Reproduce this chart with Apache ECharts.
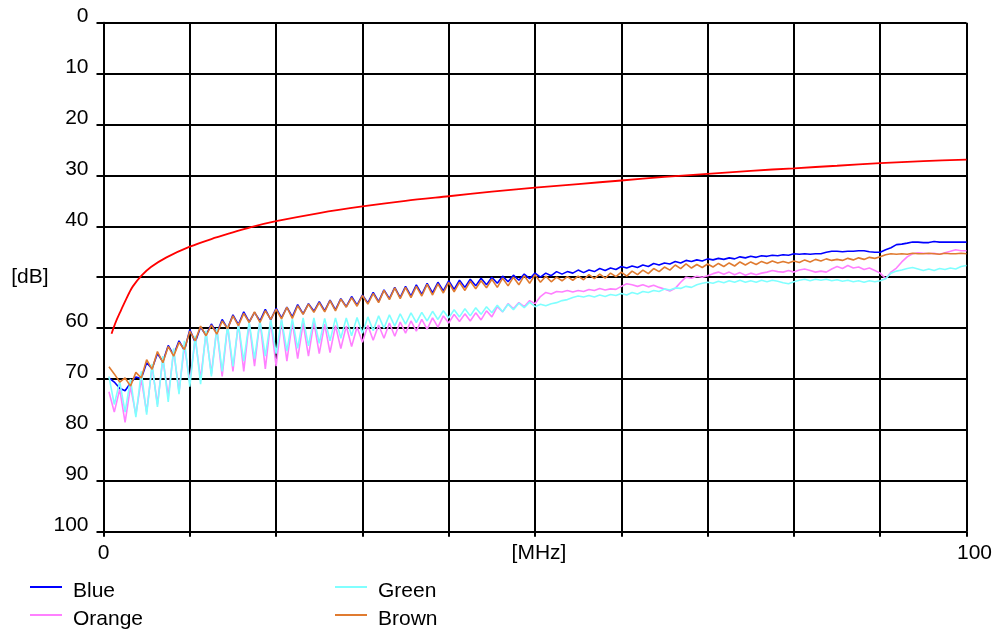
<!DOCTYPE html>
<html>
<head>
<meta charset="utf-8">
<script src="https://cdn.jsdelivr.net/npm/echarts@6/dist/echarts.min.js"></script>
<style>
  html, body { margin: 0; padding: 0; background: #fff; }
  #chart { width: 998px; height: 637px; }
</style>
</head>
<body>
<div id="chart"></div>
<script>
// Sweep frequencies (MHz) shared by the four pair traces
const freqMHz = [
  0.63,1.25,1.88,2.5,3.13,3.75,4.38,5,
  5.63,6.25,6.88,7.5,8.13,8.75,9.38,10,
  10.63,11.25,11.88,12.5,13.13,13.75,14.38,15,
  15.63,16.25,16.88,17.5,18.13,18.75,19.38,20,
  20.63,21.25,21.88,22.5,23.13,23.75,24.38,25,
  25.63,26.25,26.88,27.5,28.13,28.75,29.38,30,
  30.63,31.25,31.88,32.5,33.13,33.75,34.38,35,
  35.63,36.25,36.88,37.5,38.13,38.75,39.38,40,
  40.63,41.25,41.88,42.5,43.13,43.75,44.38,45,
  45.63,46.25,46.88,47.5,48.13,48.75,49.38,50,
  50.63,51.25,51.88,52.5,53.13,53.75,54.38,55,
  55.63,56.25,56.88,57.5,58.13,58.75,59.38,60,
  60.63,61.25,61.88,62.5,63.13,63.75,64.38,65,
  65.63,66.25,66.88,67.5,68.13,68.75,69.38,70,
  70.63,71.25,71.88,72.5,73.13,73.75,74.38,75,
  75.63,76.25,76.88,77.5,78.13,78.75,79.38,80,
  80.63,81.25,81.88,82.5,83.13,83.75,84.38,85,
  85.63,86.25,86.88,87.5,88.13,88.75,89.38,90,
  90.63,91.25,91.88,92.5,93.13,93.75,94.38,95,
  95.63,96.25,96.88,97.5,98.13,98.75,99.38,100
];

// Pair traces in dB
const blueDb = [
  69.8,70.6,71.8,72.3,70.8,69.6,69.9,66.8,
  68.0,65.0,66.6,63.4,65.3,62.5,64.4,60.3,
  62.8,59.8,61.4,59.2,61.0,58.3,60.1,57.4,
  59.3,56.8,58.8,56.9,58.6,56.3,58.4,56.1,
  58.0,55.9,57.8,55.4,57.2,55.2,56.7,54.8,
  56.6,54.5,56.4,54.2,55.8,53.8,55.5,53.5,
  55.1,53.0,54.8,52.5,54.2,52.0,54.0,51.8,
  53.7,51.5,53.4,51.2,53.1,51.0,52.7,50.7,
  52.4,50.6,52.0,50.4,51.7,50.2,51.5,50.0,
  51.2,49.8,50.9,49.6,50.6,49.4,50.3,49.2,
  50.0,49.2,49.7,48.9,49.4,48.9,49.2,48.6,
  49.1,48.6,48.9,48.3,48.7,48.2,48.5,47.9,
  48.2,47.8,48.1,47.6,47.9,47.3,47.6,47.2,
  47.4,46.9,47.2,46.7,46.9,46.6,46.8,46.4,
  46.6,46.3,46.5,46.2,46.4,46.0,46.2,45.9,
  46.1,45.8,45.9,45.7,45.8,45.6,45.7,45.4,
  45.5,45.4,45.5,45.4,45.4,45.1,44.9,44.9,
  45.0,44.9,44.9,44.8,44.8,45.0,45.1,45.1,
  44.6,44.2,43.6,43.5,43.3,43.1,43.1,43.2,
  43.2,43.0,43.1,43.1,43.1,43.1,43.1,43.1
];
const orangeDb = [
  72.5,76.5,72.0,78.5,71.5,77.0,70.0,76.5,
  67.5,75.0,66.0,73.5,64.5,72.5,63.5,70.5,
  62.0,70.0,61.0,69.0,60.0,69.5,59.5,68.5,
  59.0,68.5,59.0,67.5,58.5,68.0,58.5,67.5,
  58.5,66.5,58.8,66.0,59.0,65.5,58.8,65.0,
  59.2,64.8,59.5,64.0,59.6,63.6,59.8,62.8,
  59.5,62.4,59.4,62.0,59.0,61.6,58.8,61.0,
  58.6,60.6,58.3,60.2,58.0,59.8,57.6,59.0,
  57.3,58.7,57.2,58.6,57.0,58.4,56.6,57.8,
  55.8,56.8,55.2,56.2,55.0,55.8,54.6,55.2,
  53.8,53.0,53.3,52.8,52.9,52.6,52.9,52.6,
  52.8,52.4,52.6,52.2,52.5,52.3,52.4,51.8,
  51.3,51.5,51.8,51.5,51.9,51.6,52.0,52.3,
  52.7,52.2,51.0,50.0,50.2,49.8,50.0,49.7,
  49.3,49.0,49.4,49.0,49.5,49.1,49.6,49.2,
  49.5,49.2,49.0,48.7,48.9,49.0,48.7,49.0,
  48.6,48.4,48.7,49.0,48.8,49.0,48.4,47.9,
  48.3,47.7,48.2,48.0,48.5,48.2,48.7,49.2,
  50.3,49.0,48.2,47.0,46.0,45.4,45.2,45.3,
  45.4,45.3,45.5,45.2,44.9,44.6,44.8,44.8
];
const greenDb = [
  69.5,75.0,70.5,76.5,70.0,77.5,68.5,77.0,
  67.0,75.5,65.5,74.5,64.0,73.0,62.5,71.5,
  61.5,71.0,60.5,69.5,60.0,68.5,59.5,67.5,
  59.2,66.5,58.8,66.0,58.6,65.5,58.4,65.0,
  58.3,64.5,58.2,64.0,58.0,63.5,58.0,63.0,
  58.1,62.5,58.0,62.0,58.0,61.5,57.9,61.0,
  57.8,60.5,57.6,60.0,57.4,59.6,57.2,59.2,
  57.0,58.9,56.9,58.6,56.7,58.3,56.6,58.0,
  56.4,57.8,56.2,57.6,56.0,57.3,55.8,57.0,
  55.5,56.8,55.3,56.4,55.1,56.0,54.9,55.8,
  55.3,55.6,55.2,55.0,54.6,54.4,54.0,53.7,
  53.9,53.6,53.9,53.5,53.8,53.4,53.6,53.2,
  53.5,53.0,53.3,52.8,53.0,52.6,52.8,52.3,
  52.5,52.1,52.2,51.8,52.0,51.5,51.2,51.0,
  51.2,50.8,51.1,50.7,51.0,50.6,51.0,50.7,
  51.0,50.6,50.9,50.6,50.8,51.1,51.3,50.9,
  50.6,50.4,50.7,50.4,50.6,50.4,50.7,50.5,
  50.8,50.6,50.9,50.7,51.0,50.7,50.9,50.7,
  50.3,49.2,48.8,48.6,48.3,48.1,48.4,48.7,
  48.4,48.7,48.3,48.5,48.2,48.4,47.9,47.7
];
const brownDb = [
  67.6,69.0,70.6,69.8,71.4,68.7,69.8,66.2,
  68.1,64.6,66.8,63.6,65.5,62.8,64.2,60.6,
  62.5,59.6,61.5,59.4,61.2,58.6,60.1,57.6,
  59.5,57.1,58.9,56.8,58.9,56.6,58.3,56.3,
  58.2,55.9,58.1,55.6,57.3,55.3,56.9,55.0,
  56.8,54.6,56.6,54.3,55.9,54.0,55.7,53.6,
  55.3,53.2,55.0,52.6,54.4,52.1,54.2,52.0,
  54.0,51.8,53.7,51.4,53.5,51.3,53.1,51.0,
  52.9,51.0,52.6,50.8,52.3,50.7,52.1,50.4,
  52.0,50.2,51.7,50.0,51.5,49.7,51.2,49.5,
  51.0,49.8,50.9,50.0,50.7,49.9,50.6,49.8,
  50.5,49.5,50.3,49.4,50.2,49.2,49.9,49.0,
  49.8,48.8,49.5,48.6,49.3,48.3,48.9,48.0,
  48.6,47.6,48.3,47.4,48.2,47.5,48.1,47.4,
  48.0,47.3,47.9,47.2,47.8,47.0,47.6,47.0,
  47.5,46.9,47.3,46.8,47.2,46.9,47.2,46.8,
  47.1,46.6,47.0,46.5,46.8,46.4,46.7,46.5,
  46.7,46.3,46.6,46.2,46.5,46.1,46.3,46.0,
  45.6,45.4,45.5,45.4,45.5,45.3,45.4,45.4,
  45.3,45.4,45.5,45.3,45.4,45.4,45.3,45.4
];

// Limit line (red)
const limitFreq = [0.93,1.2,1.5,2,2.3,2.6,3,3.4,4.4,5.5,7.3,10,12.5,15,17,20,25,30,35,40,45,50,55,60,65,70,75,80,85,90,95,100];
const limitDb   = [61.1,59.8,58.5,56.6,55.5,54.4,53.0,51.8,49.7,48.0,46.1,44.0,42.5,41.2,40.2,39.0,37.4,36.1,35.0,34.1,33.2,32.4,31.7,31.0,30.3,29.7,29.1,28.6,28.1,27.6,27.2,26.9];

// Axis ticks
const dbTicks = [0,10,20,30,40,50,60,70,80,90,100];
const mhzTicks = [0,10,20,30,40,50,60,70,80,90,100];

const FONT = '"Liberation Sans", Arial, sans-serif';

function pairs(xs, ys) { return xs.map((x, i) => [x, ys[i]]); }

const traces = [
  { name: 'Blue',   color: '#0000ff', values: blueDb },
  { name: 'Orange', color: '#ff80ff', values: orangeDb },
  { name: 'Green',  color: '#80ffff', values: greenDb },
  { name: 'Brown',  color: '#e07b30', values: brownDb }
];

// Legend slots: two columns, two rows
const legendSlots = [
  { name: 'Blue',   left: 30,  top: 572 },
  { name: 'Orange', left: 30,  top: 600 },
  { name: 'Green',  left: 335, top: 572 },
  { name: 'Brown',  left: 335, top: 600 }
];

const chart = echarts.init(document.getElementById('chart'), null, { renderer: 'canvas' });

const gridLine = { show: true, lineStyle: { color: '#000', width: 2 } };
// legend captions sit a few pixels below their line sample
const legendText = {
  color: '#000', fontFamily: FONT, fontSize: 21,
  rich: { t: { color: '#000', fontFamily: FONT, fontSize: 21, lineHeight: 22, padding: [9, 0, 0, 6] } }
};

chart.setOption({
  animation: false,
  backgroundColor: '#fff',
  grid: { left: 103.5, right: 31.5, top: 22.7, bottom: 105.3, containLabel: false },
  xAxis: {
    type: 'value', min: mhzTicks[0], max: mhzTicks[mhzTicks.length - 1], interval: 10,
    axisLine: { show: true, onZero: false, lineStyle: { color: '#000', width: 2 } },
    axisTick: { show: true, length: 5, lineStyle: { color: '#000', width: 2 } },
    splitLine: gridLine,
    axisLabel: {
      margin: 11, color: '#000', fontFamily: FONT, fontSize: 21, lineHeight: 22,
      showMinLabel: true, showMaxLabel: true,
      formatter: v => v === 0 ? '{n|0}' : v === 50 ? '{m|[MHz]}' : v === 100 ? '{r|100}' : '',
      rich: {
        n: { color: '#000', fontFamily: FONT, fontSize: 21, lineHeight: 22 },
        m: { color: '#000', fontFamily: FONT, fontSize: 21, lineHeight: 22, padding: [0, 0, 0, 8] },
        r: { color: '#000', fontFamily: FONT, fontSize: 21, lineHeight: 22, padding: [0, 0, 0, 16] }
      }
    }
  },
  yAxis: {
    type: 'value', inverse: true, min: dbTicks[0], max: dbTicks[dbTicks.length - 1], interval: 10,
    axisLine: { show: true, lineStyle: { color: '#000', width: 2 } },
    axisTick: { show: true, length: 7, lineStyle: { color: '#000', width: 2 } },
    splitLine: gridLine,
    axisLabel: {
      margin: 15, color: '#000', fontFamily: FONT, fontSize: 21,
      showMinLabel: true, showMaxLabel: true,
      formatter: v => v === 50 ? '{d|[dB]}' : '{n|' + v + '}',
      rich: {
        n: { color: '#000', fontFamily: FONT, fontSize: 21, lineHeight: 22, padding: [0, 0, 13, 0] },
        d: { color: '#000', fontFamily: FONT, fontSize: 21, lineHeight: 22, padding: [0, 40, 0, 0] }
      }
    }
  },
  legend: legendSlots.map(s => ({
    data: [s.name], orient: 'vertical', left: s.left, top: s.top, padding: 0,
    itemWidth: 32, itemHeight: 2, itemGap: 0, icon: 'rect',
    formatter: '{t|{name}}', textStyle: legendText,
    selectedMode: false
  })),
  series: [
    // drawing order: Blue under Brown, Orange under Green
    ...traces.map(t => ({
      name: t.name, type: 'line', data: pairs(freqMHz, t.values),
      showSymbol: false, symbol: 'none', color: t.color,
      lineStyle: { color: t.color, width: 1.6 }, z: 3
    })),
    {
      name: 'Limit', type: 'line', data: pairs(limitFreq, limitDb),
      smooth: 0.3,
      showSymbol: false, symbol: 'none', color: '#ff0000',
      lineStyle: { color: '#ff0000', width: 1.8 }, z: 4
    }
  ]
});
</script>
</body>
</html>
